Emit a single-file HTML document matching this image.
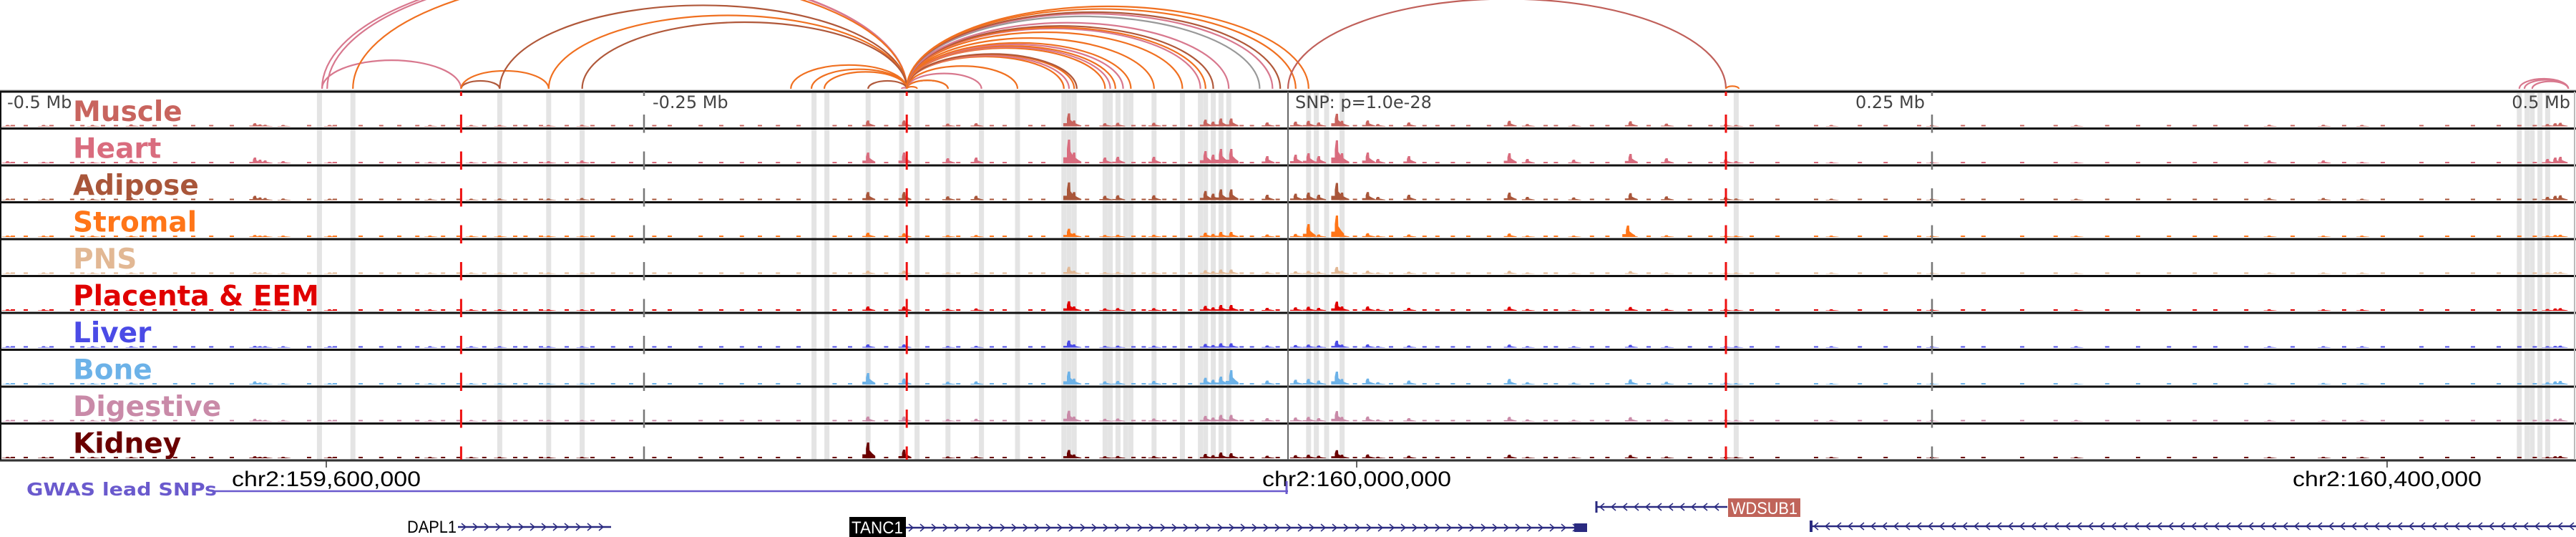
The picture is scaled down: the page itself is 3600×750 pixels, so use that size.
<!DOCTYPE html>
<html><head><meta charset="utf-8"><style>
html,body{margin:0;padding:0;background:#fff;}
svg{display:block;}
</style></head><body>
<svg id="chart" width="3600" height="750" viewBox="0 0 3600 750" xmlns="http://www.w3.org/2000/svg">
<g id="hl"></g>
<g id="arcs"></g>
<g id="tracks"></g>
<g id="overlay"></g>
<g id="bottom"></g>
</svg>
<script>
// ---- data (genomic offsets in kb relative to lead SNP) ----
const trackNames = ["Muscle","Heart","Adipose","Stromal","PNS","Placenta & EEM","Liver","Bone","Digestive","Kidney"];
const trackColors = ["#c8645e","#d96c7e","#a9563a","#ff7518","#e2b894","#e00000","#4b4be6","#6cb2e8","#c98aa8","#6a0000"];
const trackScale = [0.55,1.0,0.75,0.35,0.3,0.4,0.3,0.55,0.45,0.35];
const peakKb = [-497,-483,-464,-449,-401,-399,-397,-390,-372,-333,-317,-306,-287,-274,-163,-149,-132,-121,-85,-83,-71,-66,-52,-32,-29,-26,-22,-8,3,8,12,19,21,31,35,47,86,93,111,133,147,170,174,211,250,306,381,402,417,489,492,494];
const peakH  = [3,2,2,5,8,5,4,3,2,2,2,3,3,4,15,15,7,8,33,15,8,9,9,17,12,20,20,10,12,14,10,32,14,15,6,10,14,6,5,13,7,6,3,2,2,2,4,4,2,6,8,9];
const extraTrack = [3,3,3,3,7,7,7,7,9,9,9,5,5];
const extraKb    = [8,19,-163,132,-163,-85,-22,19,-163,-149,-26,19,21];
const extraH     = [18,30,6,16,16,18,20,18,22,12,8,8,6];
const bgKb = [-495,-490,-480,-472,-468,-460,-455,-445,-440,-432,-425,-418,-410,-380,-370,-360,-352,-345,-338,-328,-322,-312,-300,-296,-290,-280,-270,-262,-255,-246,-240,-228,-220,-212,-205,-198,-190,-176,-170,-156,-140,-128,-115,-110,-100,-95,-78,-60,-56,-48,-44,-38,-18,-14,-4,26,40,53,58,64,70,78,100,104,118,124,140,156,164,180,190,205,222,232,245,262,270,285,298,318,330,342,352,360,372,390,410,425,440,450,460,470,478,484];
const hlKb = [-376,-363,-306,-287,-274,-184,-179,-163,-150,-144,-132,-119,-105,-87,-85,-83,-71,-69,-66,-63,-61,-52,-41,-34,-32,-29,-26,-23,8,11,15,21,174,478,481,483,486,489];
const arcStart = [-375,-373,-375,-363,-321,-321,-306,-287,-274,-193,-185,-180,-163,-150,-148,-148,-148,-148,-148,-148,-148,-148,-148,-148,-148,-148,-148,-148,-148,-148,-148,-148,-148,-148,-148,-148,-148,-148,-148,0,170,478,480,483];
const arcEnd   = [-148,-148,-321,-148,-306,-287,-148,-148,-148,-148,-148,-148,-148,-148,-144,-132,-132,-119,-105,-87,-85,-83,-82,-71,-69,-67,-64,-61,-52,-41,-34,-32,-29,-23,-11,-6,-3,3,8,170,175,497,497,497];
const arcColorIdx = [0,0,0,1,2,1,2,1,2,1,1,1,2,0,1,2,1,0,1,1,0,1,2,1,0,1,0,1,1,1,0,1,2,0,3,0,2,1,1,4,1,0,0,0];
const arcColors = ["#d8788e","#f07020","#b0583a","#999999","#c0605a"];
const redKb = [-321,-148,170];
const axisTickKb = [-250,250];
const coordTicks = [159600000,160000000,160400000];

// ---- scales ----
const NS="http://www.w3.org/2000/svg";
const xKb = kb => 1800 + kb*3.6;
const xCoord = c => 456 + (c-159600000)*0.0036;
const TOP=128, TH=51.5, NT=trackNames.length, BOT=TOP+TH*NT;
function mk(tag, attrs, parent){const e=document.createElementNS(NS,tag);for(const k in attrs)e.setAttribute(k,attrs[k]);parent.appendChild(e);return e;}
const hl=document.getElementById('hl'), arcs=document.getElementById('arcs'), tracks=document.getElementById('tracks'), ov=document.getElementById('overlay'), bottom=document.getElementById('bottom');

hlKb.forEach(k=>{
  const r=mk('rect',{x:xKb(k)-3.5,y:TOP+2,width:7,height:BOT-TOP-2,fill:'#e4e4e4'},hl);
  
  
});

arcStart.forEach((s,i)=>{
  const x1=xKb(s), x2=xKb(arcEnd[i]); const w=x2-x1; const ry=w*0.205;
  const p=mk('path',{d:`M${x1},124 A${w/2},${ry} 0 0 1 ${x2},124`,fill:'none',stroke:arcColors[arcColorIdx[i]],'stroke-width':2.2},arcs);
  
  
});
mk('line',{x1:0,y1:126,x2:3600,y2:126,stroke:'#cfcfcf','stroke-width':2},arcs);

trackNames.forEach((name,t)=>{
  const top=TOP+t*TH, base=top+TH-3;
  const g=mk('g',{},tracks);
  
  
  const col=trackColors[t], sc=trackScale[t];
  bgKb.forEach(k=>{
    const b=mk('rect',{x:xKb(k)-3,y:base-2,width:6,height:2,fill:col},g);
    
    
  });
  const drawPeak=(k,h)=>{
    const x=xKb(k); h=Math.min(h,46);
    const b=mk('path',{d:`M${x-8},${base} L${x-8},${base-h*0.25} L${x-3},${base-h*0.25} L${x-3},${base-h*0.6} L${x-1.5},${base-h} L${x+1.5},${base-h} L${x+2},${base-h*0.5} L${x+6},${base-h*0.3} L${x+10},${base-h*0.15} L${x+10},${base} Z`,fill:col},g);
    
    
  };
  peakKb.forEach((k,i)=>drawPeak(k,Math.max(2,peakH[i]*sc)));
  extraKb.forEach((k,i)=>{ if(extraTrack[i]===t) drawPeak(k,extraH[i]); });
  mk('line',{x1:0,y1:top+TH,x2:3600,y2:top+TH,stroke:'#111','stroke-width':3},g);
  const lb=mk('text',{x:102,y:top+41,fill:col,'font-family':'"DejaVu Sans","Liberation Sans",sans-serif','font-weight':'bold','font-size':39},g);
  lb.textContent=name;
  
  
});
mk('line',{x1:0,y1:TOP,x2:3600,y2:TOP,stroke:'#111','stroke-width':3},tracks);
mk('line',{x1:1,y1:TOP,x2:1,y2:BOT,stroke:'#111','stroke-width':2},tracks);
mk('line',{x1:3598,y1:TOP,x2:3598,y2:BOT,stroke:'#bbb','stroke-width':2},tracks);

redKb.forEach(k=>{
  const l=mk('line',{x1:xKb(k),y1:TOP,x2:xKb(k),y2:BOT,stroke:'#ee1111','stroke-width':3,'stroke-dasharray':'6 26 19.5 0','stroke-dashoffset':0},ov);
  
  
});
axisTickKb.forEach(k=>{
  const l=mk('line',{x1:xKb(k),y1:TOP,x2:xKb(k),y2:BOT,stroke:'#777','stroke-width':2.5,'stroke-dasharray':'6 26 19.5 0'},ov);
  
  
});
const snp=mk('line',{x1:xKb(0),y1:TOP,x2:xKb(0),y2:BOT,stroke:'#666','stroke-width':2},ov);


const axF={'font-family':'"DejaVu Sans","Liberation Sans",sans-serif','font-size':24,fill:'#444'};
[["-0.5 Mb",10,'start'],["-0.25 Mb",912,'start'],["SNP: p=1.0e-28",1810,'start'],["0.25 Mb",2690,'end'],["0.5 Mb",3592,'end']].forEach(a=>{
  const t=mk('text',Object.assign({x:a[1],y:151,'text-anchor':a[2]},axF),ov);
  t.textContent=a[0];
  
  
});

mk('line',{x1:0,y1:BOT,x2:3600,y2:BOT,stroke:'#333','stroke-width':2},bottom);
coordTicks.forEach(c=>{
  const x=xCoord(c);
  mk('line',{x1:x,y1:BOT,x2:x,y2:BOT+10,stroke:'#333','stroke-width':1.5},bottom);
  const t=mk('text',{x:x,y:679,'text-anchor':'middle','font-family':'"Liberation Sans",sans-serif','font-size':30,fill:'#000',textLength:264,lengthAdjust:'spacingAndGlyphs'},bottom);
  t.textContent='chr2:'+c.toLocaleString('en-US');
  
  
});
const gw=mk('text',{x:37,y:692,'font-family':'"DejaVu Sans",sans-serif','font-weight':'bold','font-size':25,fill:'#6a5acd',textLength:266,lengthAdjust:'spacingAndGlyphs'},bottom);
gw.textContent='GWAS lead SNPs';


mk('line',{x1:300,y1:686,x2:xKb(0),y2:686,stroke:'#6a5acd','stroke-width':2.5},bottom);
mk('line',{x1:xKb(0)-2,y1:672,x2:xKb(0)-2,y2:690,stroke:'#6a5acd','stroke-width':3},bottom);

function gene(name,x1,x2,y,dir){
  const g=mk('g',{},bottom);
  
  
  mk('line',{x1:x1,y1:y,x2:x2,y2:y,stroke:'#2a2a80','stroke-width':2.5},g);
  for(let x=x1+8;x<x2-4;x+=16){
    const d=dir>0?`M${x-3},${y-5} L${x+3},${y} L${x-3},${y+5}`:`M${x+3},${y-5} L${x-3},${y} L${x+3},${y+5}`;
    mk('path',{d:d,fill:'none',stroke:'#2a2a80','stroke-width':1.5},g);
  }
  return g;
}
const gd=gene('DAPL1',640,854,736,1);
const dt=mk('text',{x:569,y:744,'font-family':'"Liberation Sans",sans-serif','font-size':24,fill:'#000',textLength:69,lengthAdjust:'spacingAndGlyphs'},gd);
dt.textContent='DAPL1';
const gt=gene('TANC1',1265,2215,737,1);
mk('rect',{x:1187,y:722,width:79,height:28,fill:'#000'},gt);
const tt=mk('text',{x:1190,y:745,'font-family':'"Liberation Sans",sans-serif','font-size':24,fill:'#fff',textLength:72,lengthAdjust:'spacingAndGlyphs'},gt);
tt.textContent='TANC1';
mk('rect',{x:2200,y:731,width:18,height:12,fill:'#2a2a80'},gt);
const gw2=gene('WDSUB1',2231,2414,708,-1);
mk('rect',{x:2415,y:696,width:101,height:26,fill:'#c0645a'},gw2);
const wt=mk('text',{x:2419,y:718,'font-family':'"Liberation Sans",sans-serif','font-size':24,fill:'#fff',textLength:93,lengthAdjust:'spacingAndGlyphs'},gw2);
wt.textContent='WDSUB1';
mk('line',{x1:2231,y1:700,x2:2231,y2:716,stroke:'#2a2a80','stroke-width':3},gw2);
const g4=gene('gene-right',2530,3600,735,-1);
mk('rect',{x:2529,y:727,width:4,height:16,fill:'#2a2a80'},g4);
</script>
</body></html>
